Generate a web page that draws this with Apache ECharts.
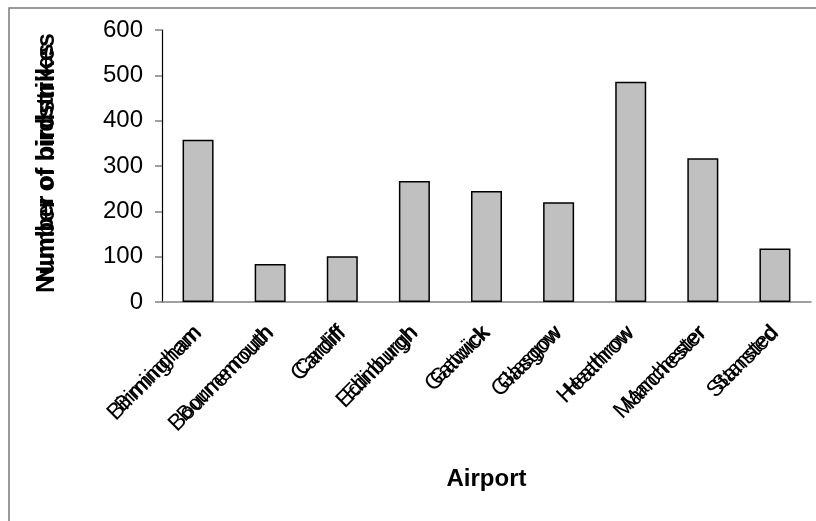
<!DOCTYPE html>
<html>
<head>
<meta charset="utf-8">
<script src="https://cdn.jsdelivr.net/npm/echarts@6/dist/echarts.min.js"></script>
<style>
  html, body { margin: 0; padding: 0; background: #fff; }
  #chart { width: 816px; height: 521px; }
</style>
</head>
<body>
<div id="chart"></div>
<script>
// Bird strikes reported at UK airports
const airports = ['Birmingham', 'Bournemouth', 'Cardiff', 'Edinburgh', 'Gatwick',
                  'Glasgow', 'Heathrow', 'Manchester', 'Stansted'];
const birdstrikes = [358, 84, 101, 267, 245, 220, 486, 317, 118];
const yTicks = [0, 100, 200, 300, 400, 500, 600];
const yTitle = 'Number of birdstrikes';
const xTitle = 'Airport';

const FONT = '"Liberation Sans", Arial, sans-serif';
const chart = echarts.init(document.getElementById('chart'), null, { renderer: 'canvas' });

// The category labels and the y title are printed twice at slightly
// different sizes, giving the overprinted look of the original export.
const ghostLabel = (size, margin) => ({
  rotate: 45, interval: 0, margin: margin,
  fontFamily: FONT, fontSize: size, color: '#000'
});
const yTitleText = (size) => ({
  type: 'text',
  x: 47, y: 163,
  rotation: Math.PI / 2,
  style: {
    text: yTitle, font: 'bold ' + size + 'px ' + FONT, fill: '#000',
    align: 'center', verticalAlign: 'middle'
  },
  silent: true
});

chart.setOption({
  animation: false,
  backgroundColor: '#ffffff',
  graphic: [
    {
      type: 'rect',
      shape: { x: 9, y: 8, width: 830, height: 540 },
      style: { fill: 'none', stroke: '#7a7a7a', lineWidth: 1.5 },
      silent: true, z: -1
    },
    yTitleText(23),
    yTitleText(25)
  ],
  grid: { left: 162, right: 5, top: 30, bottom: 219, containLabel: false },
  xAxis: [{
    type: 'category',
    data: airports,
    name: xTitle,
    nameLocation: 'middle',
    nameGap: 165,
    nameTextStyle: { fontFamily: FONT, fontSize: 24, fontWeight: 'bold', color: '#000' },
    axisLine: { lineStyle: { color: '#808080', width: 1.5 } },
    axisTick: { length: 7, lineStyle: { color: '#808080', width: 1.5 } },
    axisLabel: ghostLabel(21, 27)
  }, {
    type: 'category',
    data: airports,
    position: 'bottom',
    axisLine: { show: false },
    axisTick: { show: false },
    axisLabel: ghostLabel(23, 28)
  }],
  yAxis: {
    type: 'value',
    min: yTicks[0], max: yTicks[yTicks.length - 1], interval: 100,
    axisLine: { show: true, lineStyle: { color: '#000', width: 1.2 } },
    axisTick: { show: true, length: 7, lineStyle: { color: '#808080', width: 1.5 } },
    splitLine: { show: false },
    axisLabel: { margin: 19, fontFamily: FONT, fontSize: 24, color: '#000' }
  },
  series: [{
    type: 'bar',
    data: birdstrikes,
    xAxisIndex: 0,
    barWidth: '43%',
    itemStyle: { color: '#c0c0c0', borderColor: '#000', borderWidth: 1.5 }
  }]
});
</script>
</body>
</html>
